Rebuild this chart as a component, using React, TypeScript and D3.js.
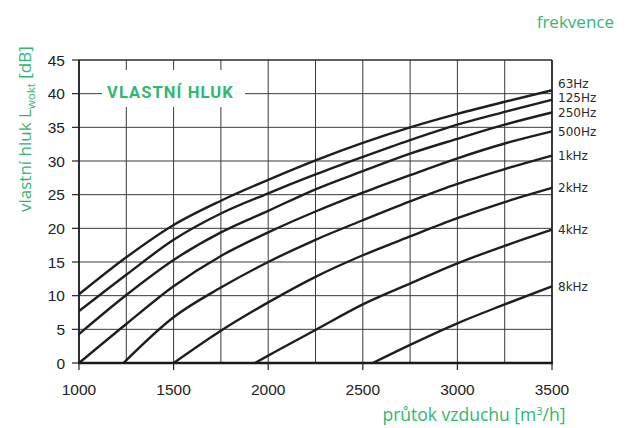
import React from "react";
import * as d3 from "d3";

// ---- data ----
const freqLabels = ["63Hz", "125Hz", "250Hz", "500Hz", "1kHz", "2kHz", "4kHz", "8kHz"];
const flowGrid = [1000, 1250, 1500, 1750, 2000, 2250, 2500, 2750, 3000, 3250, 3500];
// flow at which each curve starts (value 0 there for curves starting above 1000)
const startFlow = [1000, 1000, 1000, 1000, 1235, 1500, 1930, 2552];
const level63Hz = [10.2, 15.7, 20.5, 24.1, 27.2, 30.1, 32.7, 35.0, 37.0, 38.8, 40.5];
const level125Hz = [7.7, 13.1, 18.3, 22.2, 25.2, 28.0, 30.6, 33.1, 35.4, 37.3, 39.1];
const level250Hz = [4.3, 10.1, 15.3, 19.4, 22.6, 25.8, 28.5, 31.1, 33.3, 35.4, 37.2];
const level500Hz = [0, 5.8, 11.4, 15.9, 19.4, 22.5, 25.3, 27.9, 30.4, 32.6, 34.4];
const level1kHz = [0, 6.8, 11.2, 15.0, 18.3, 21.2, 24.0, 26.6, 28.8, 30.8]; // from 1235, then 1500..3500
const level2kHz = [0, 4.8, 9.0, 12.8, 16.0, 18.8, 21.5, 23.9, 26.0]; // from 1500
const level4kHz = [0, 1.1, 4.9, 8.7, 11.8, 14.8, 17.4, 19.8]; // from 1930, then 2000..3500
const level8kHz = [0, 2.7, 5.9, 8.7, 11.4]; // from 2552, then 2750..3500
const seriesLevels = [level63Hz, level125Hz, level250Hz, level500Hz, level1kHz, level2kHz, level4kHz, level8kHz];

const xTicks = [1000, 1500, 2000, 2500, 3000, 3500];
const yTicks = [0, 5, 10, 15, 20, 25, 30, 35, 40, 45];

const GREEN = "#2fb872";
const W = 627, H = 428;
const M = { left: 79, right: 552, top: 60, bottom: 363 };

function buildPoints(i: number): [number, number][] {
  const lv = seriesLevels[i];
  const s = startFlow[i];
  const flows = [s, ...flowGrid.filter((f) => f > s + 50)];
  return flows.map((f, k) => [f, lv[k]] as [number, number]);
}

export default function App() {
  const x = d3.scaleLinear().domain([1000, 3500]).range([M.left, M.right]);
  const y = d3.scaleLinear().domain([0, 45]).range([M.bottom, M.top]);
  const line = d3
    .line<[number, number]>()
    .x((d) => x(d[0]))
    .y((d) => y(d[1]))
    .curve(d3.curveMonotoneX);

  const series = freqLabels.map((_, i) => buildPoints(i));

  // label positions: end value, relaxed bottom-up to avoid overlap
  const ly = series.map((p) => y(p[p.length - 1][1]));
  const gap = 14.6;
  for (let i = ly.length - 2; i >= 0; i--) {
    if (ly[i + 1] - ly[i] < gap) ly[i] = ly[i + 1] - gap;
  }

  const gridV = d3.range(1000, 3501, 250);
  const gridH = d3.range(0, 46, 5);

  return (
    <svg width={W} height={H} style={{ position: "absolute", left: 0, top: 0 }}>
      <rect width={W} height={H} fill="#fff" />
      {/* grid */}
      {gridV.map((v) => (
        <line key={"v" + v} x1={x(v)} x2={x(v)} y1={M.top} y2={M.bottom} stroke="#3a3a3a" strokeWidth={1} />
      ))}
      {gridH.map((v) => (
        <line key={"h" + v} x1={M.left} x2={M.right} y1={y(v)} y2={y(v)} stroke="#3a3a3a" strokeWidth={1} />
      ))}
      {/* frame */}
      <line x1={M.left} x2={M.right} y1={M.top} y2={M.top} stroke="#222" strokeWidth={1.2} />
      <line x1={M.right} x2={M.right} y1={M.top} y2={M.bottom} stroke="#222" strokeWidth={1.6} />
      <line x1={M.left} x2={M.left} y1={M.top} y2={M.bottom} stroke="#222" strokeWidth={1.8} />
      {/* label box */}
      <rect x={102} y={70} width={143} height={37} fill="#fff" />
      <text x={107} y={97.5} fill={GREEN} fontFamily="Roboto, 'Open Sans', sans-serif" fontWeight={700} fontSize={16.5} letterSpacing={1.1}>
        VLASTNÍ HLUK
      </text>
      {/* curves */}
      {series.map((p, i) => (
        <path key={freqLabels[i]} d={line(p) || ""} fill="none" stroke="#1e1e1e" strokeWidth={2.4} strokeLinejoin="round" />
      ))}
      {/* bottom axis */}
      <line x1={M.left - 1} x2={M.right + 1} y1={M.bottom} y2={M.bottom} stroke="#1a1a1a" strokeWidth={2.6} />
      {xTicks.map((t) => (
        <g key={"xt" + t}>
          <line x1={x(t)} x2={x(t)} y1={M.bottom} y2={M.bottom + 7} stroke="#222" strokeWidth={1.2} />
          <text x={x(t)} y={395} textAnchor="middle" fontFamily="'Liberation Sans', Arial, sans-serif" fontSize={15.5} fill="#222">
            {t}
          </text>
        </g>
      ))}
      {/* left axis ticks */}
      {yTicks.map((t) => (
        <g key={"yt" + t}>
          <line x1={M.left - 7} x2={M.left} y1={y(t)} y2={y(t)} stroke="#222" strokeWidth={1.2} />
          <text x={65} y={y(t) + 5.5} textAnchor="end" fontFamily="'Liberation Sans', Arial, sans-serif" fontSize={15.5} fill="#222">
            {t}
          </text>
        </g>
      ))}
      {/* frequency labels */}
      {freqLabels.map((f, i) => (
        <text key={"fl" + f} x={558} y={ly[i] + 4.3} fontFamily="'DejaVu Sans', sans-serif" fontSize={12} fill="#2a2a2a">
          {f}
        </text>
      ))}
      <text x={614} y={28} textAnchor="end" fill={GREEN} fontFamily="'Open Sans', sans-serif" fontSize={17}>
        frekvence
      </text>
      {/* axis titles */}
      <text x={474} y={421} textAnchor="middle" fill={GREEN} fontFamily="'Open Sans', sans-serif" fontSize={17.5}>
        průtok vzduchu [m<tspan dy={-6} fontSize={11}>3</tspan><tspan dy={6}>/h]</tspan>
      </text>
      <text transform="translate(31,212) rotate(-90)" fill={GREEN} fontFamily="'Open Sans', sans-serif" fontSize={17}>
        vlastní hluk L<tspan dy={4} fontSize={11.5}>wokt</tspan>
        <tspan dy={-4}> [dB]</tspan>
      </text>
    </svg>
  );
}
